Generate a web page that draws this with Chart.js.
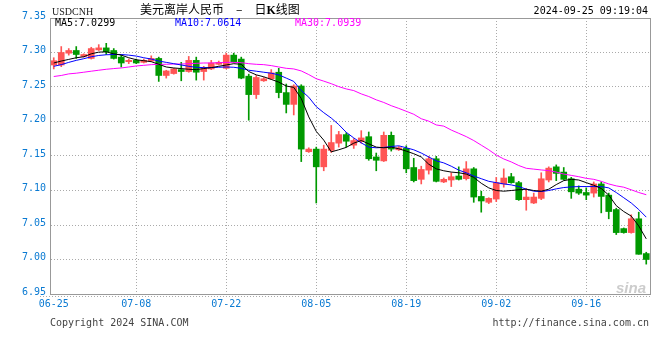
<!DOCTYPE html>
<html>
<head>
<meta charset="utf-8">
<script src="https://cdn.jsdelivr.net/npm/chart.js@4.4.1/dist/chart.umd.min.js"></script>
<style>
    body { margin: 0; background: #fff; }
    #wrap { position: relative; width: 660px; height: 360px; }
    #chart { position: absolute; left: 0; top: 0; }
    .txt { position: absolute; font: 10px "DejaVu Sans Mono", monospace; line-height: 12px; white-space: nowrap; }
</style>
</head>
<body>
<div id="wrap">
    <canvas id="chart" width="660" height="360"></canvas>
    <div class="txt" style="left:52px; top:6px; font-family:'Liberation Serif',serif; color:#222;">USDCNH</div>
    <div class="txt" style="left:140px; top:2px; font:12px 'Noto Sans CJK SC'; line-height:14px; color:#000;">美元离岸人民币　–　日<b style="font-family:'Liberation Serif'">K</b>线图</div>
    <div class="txt" style="right:12px; top:5px; color:#000;">2024-09-25 09:19:04</div>
    <div class="txt" style="left:55px; top:17px; color:#000;">MA5:7.0299</div>
    <div class="txt" style="left:175px; top:17px; color:#0000ff;">MA10:7.0614</div>
    <div class="txt" style="left:295px; top:17px; color:#ff00ff;">MA30:7.0939</div>
    <div class="txt" style="left:50px; top:317px; color:#444;">Copyright 2024 SINA.COM</div>
    <div class="txt" style="right:11px; top:317px; color:#444;">http://finance.sina.com.cn</div>
    <div class="txt" style="left:616px; top:279px; font:italic bold 15px 'Liberation Sans'; color:#cccccc;">sina</div>
</div>
<script>
(function (Chart) {
    const canvas = document.getElementById("chart");

    const dates = [
        "06-25", "06-26", "06-27", "06-28", "06-29",
        "07-01", "07-02", "07-03", "07-04", "07-05", "07-06",
        "07-08", "07-09", "07-10", "07-11", "07-12", "07-13",
        "07-15", "07-16", "07-17", "07-18", "07-19", "07-20",
        "07-22", "07-23", "07-24", "07-25", "07-26", "07-27",
        "07-29", "07-30", "07-31", "08-01", "08-02", "08-03",
        "08-05", "08-06", "08-07", "08-08", "08-09", "08-10",
        "08-12", "08-13", "08-14", "08-15", "08-16", "08-17",
        "08-19", "08-20", "08-21", "08-22", "08-23", "08-24",
        "08-26", "08-27", "08-28", "08-29", "08-30", "08-31",
        "09-02", "09-03", "09-04", "09-05", "09-06", "09-07",
        "09-09", "09-10", "09-11", "09-12", "09-13", "09-14",
        "09-16", "09-17", "09-18", "09-19", "09-20", "09-21",
        "09-23", "09-24", "09-25"
    ];
    const tickLabels = ["06-25", "07-08", "07-22", "08-05", "08-19", "09-02", "09-16"];
    const yTicks = [6.95, 7.00, 7.05, 7.10, 7.15, 7.20, 7.25, 7.30, 7.35];

    const opens = [
        7.2819, 7.2819, 7.2990, 7.3029, 7.2943, 7.2914, 7.3038, 7.3067, 7.3029, 7.2933,
        7.2867, 7.2886, 7.2857, 7.2876, 7.2914, 7.2667, 7.2695, 7.2752, 7.2724, 7.2886,
        7.2724, 7.2762, 7.2829, 7.2771, 7.2962, 7.2905, 7.2657, 7.2390, 7.2590, 7.2619,
        7.2714, 7.2419, 7.2248, 7.2514, 7.1562, 7.1600, 7.1343, 7.1581, 7.1686, 7.1810,
        7.1657, 7.1714, 7.1780, 7.1486, 7.1429, 7.1800, 7.1590, 7.1610, 7.1333, 7.1162,
        7.1295, 7.1460, 7.1124, 7.1152, 7.1210, 7.1171, 7.1314, 7.0914, 7.0829, 7.0876,
        7.1095, 7.1200, 7.1114, 7.0867, 7.0819, 7.0886, 7.1152, 7.1343, 7.1267, 7.1171,
        7.1019, 7.0971, 7.0962, 7.1095, 7.0933, 7.0724, 7.0448, 7.0390, 7.0590, 7.0086
    ];
    const highs = [
        7.2924, 7.3086, 7.3057, 7.3086, 7.2981, 7.3076, 7.3114, 7.3133, 7.3057, 7.2962,
        7.2905, 7.2905, 7.2905, 7.2952, 7.2933, 7.2743, 7.2771, 7.2857, 7.2943, 7.2933,
        7.2800, 7.2886, 7.2876, 7.2990, 7.2990, 7.2933, 7.2686, 7.2667, 7.2638, 7.2752,
        7.2771, 7.2543, 7.2533, 7.2533, 7.1619, 7.1629, 7.1657, 7.1943, 7.1857, 7.1838,
        7.1752, 7.1867, 7.1848, 7.1543, 7.1848, 7.1848, 7.1638, 7.1648, 7.1467, 7.1352,
        7.1495, 7.1495, 7.1181, 7.1257, 7.1343, 7.1419, 7.1333, 7.0990, 7.0895, 7.1190,
        7.1314, 7.1248, 7.1133, 7.1029, 7.0962, 7.1257, 7.1343, 7.1371, 7.1333, 7.1190,
        7.1067, 7.1038, 7.1124, 7.1124, 7.0962, 7.0743, 7.0457, 7.0648, 7.0686, 7.0105
    ];
    const lows = [
        7.2762, 7.2795, 7.2962, 7.2914, 7.2933, 7.2905, 7.3029, 7.2971, 7.2905, 7.2790,
        7.2838, 7.2838, 7.2848, 7.2867, 7.2581, 7.2629, 7.2686, 7.2590, 7.2714, 7.2600,
        7.2600, 7.2752, 7.2819, 7.2762, 7.2857, 7.2619, 7.2019, 7.2333, 7.2581, 7.2610,
        7.2343, 7.2124, 7.2095, 7.1419, 7.1552, 7.0819, 7.1286, 7.1552, 7.1629, 7.1629,
        7.1610, 7.1686, 7.1438, 7.1286, 7.1420, 7.1571, 7.1580, 7.1257, 7.1124, 7.1095,
        7.1238, 7.1124, 7.1114, 7.1057, 7.1152, 7.1152, 7.0829, 7.0686, 7.0810, 7.0838,
        7.1048, 7.1105, 7.0857, 7.0714, 7.0810, 7.0867, 7.1124, 7.1143, 7.1152, 7.0886,
        7.0943, 7.0867, 7.0905, 7.0676, 7.0590, 7.0362, 7.0381, 7.0381, 7.0076, 6.9933
    ];
    const closes = [
        7.2881, 7.3000, 7.3029, 7.2971, 7.2971, 7.3057, 7.3067, 7.3010, 7.2914, 7.2848,
        7.2886, 7.2848, 7.2886, 7.2914, 7.2667, 7.2733, 7.2762, 7.2724, 7.2886, 7.2714,
        7.2781, 7.2848, 7.2857, 7.2962, 7.2867, 7.2629, 7.2390, 7.2638, 7.2619, 7.2705,
        7.2419, 7.2248, 7.2514, 7.1600, 7.1600, 7.1343, 7.1600, 7.1695, 7.1810, 7.1714,
        7.1724, 7.1762, 7.1460, 7.1438, 7.1800, 7.1600, 7.1620, 7.1314, 7.1143, 7.1305,
        7.1460, 7.1133, 7.1162, 7.1200, 7.1162, 7.1314, 7.0905, 7.0848, 7.0886, 7.1114,
        7.1181, 7.1114, 7.0867, 7.0905, 7.0905, 7.1170, 7.1324, 7.1248, 7.1162, 7.0981,
        7.0962, 7.0933, 7.1095, 7.0914, 7.0695, 7.0390, 7.0390, 7.0590, 7.0076, 7.0000
    ];

    const ma5 = [
        7.2848, 7.2876, 7.2900, 7.2924, 7.2938, 7.2981, 7.3005, 7.3010, 7.2981, 7.2962,
        7.2924, 7.2895, 7.2881, 7.2867, 7.2829, 7.2790, 7.2776, 7.2767, 7.2757, 7.2752,
        7.2767, 7.2781, 7.2800, 7.2819, 7.2838, 7.2829, 7.2724, 7.2676, 7.2648, 7.2610,
        7.2571, 7.2514, 7.2495, 7.2333, 7.2067, 7.1857, 7.1730, 7.1560, 7.1590, 7.1625,
        7.1686, 7.1724, 7.1676, 7.1629, 7.1619, 7.1629, 7.1605, 7.1571, 7.1533, 7.1486,
        7.1381, 7.1314, 7.1286, 7.1267, 7.1257, 7.1238, 7.1190, 7.1105, 7.1038, 7.1000,
        7.0990, 7.1000, 7.1010, 7.1019, 7.1000, 7.0990, 7.1019, 7.1086, 7.1143, 7.1162,
        7.1152, 7.1114, 7.1076, 7.1029, 7.0933, 7.0780, 7.0695, 7.0629, 7.0486, 7.0299
    ];
    const ma10 = [
        7.2800, 7.2824, 7.2857, 7.2886, 7.2910, 7.2938, 7.2957, 7.2967, 7.2971, 7.2971,
        7.2962, 7.2948, 7.2924, 7.2905, 7.2876, 7.2857, 7.2838, 7.2819, 7.2800, 7.2786,
        7.2781, 7.2781, 7.2786, 7.2790, 7.2786, 7.2771, 7.2743, 7.2729, 7.2714, 7.2700,
        7.2676, 7.2629, 7.2581, 7.2448, 7.2352, 7.2215, 7.2128, 7.2050, 7.1955, 7.1843,
        7.1762, 7.1690, 7.1629, 7.1619, 7.1624, 7.1638, 7.1648, 7.1619, 7.1590, 7.1543,
        7.1486, 7.1430, 7.1400, 7.1352, 7.1295, 7.1257, 7.1210, 7.1171, 7.1133, 7.1114,
        7.1095, 7.1081, 7.1057, 7.1019, 7.0990, 7.0985, 7.1000, 7.1024, 7.1043, 7.1052,
        7.1057, 7.1057, 7.1057, 7.1057, 7.1038, 7.0971, 7.0895, 7.0819, 7.0724, 7.0614
    ];
    const ma30 = [
        7.2652, 7.2667, 7.2690, 7.2700, 7.2714, 7.2729, 7.2743, 7.2757, 7.2767, 7.2776,
        7.2790, 7.2805, 7.2814, 7.2824, 7.2829, 7.2829, 7.2833, 7.2833, 7.2838, 7.2843,
        7.2848, 7.2848, 7.2852, 7.2857, 7.2857, 7.2852, 7.2838, 7.2829, 7.2824, 7.2810,
        7.2790, 7.2771, 7.2762, 7.2733, 7.2680, 7.2620, 7.2585, 7.2548, 7.2505, 7.2472,
        7.2448, 7.2400, 7.2362, 7.2314, 7.2276, 7.2229, 7.2190, 7.2148, 7.2105, 7.2040,
        7.2005, 7.1950, 7.1933, 7.1876, 7.1829, 7.1781, 7.1724, 7.1657, 7.1590, 7.1514,
        7.1457, 7.1414, 7.1362, 7.1322, 7.1310, 7.1298, 7.1288, 7.1267, 7.1238, 7.1219,
        7.1200, 7.1176, 7.1162, 7.1133, 7.1095, 7.1067, 7.1048, 7.1010, 7.0971, 7.0939
    ];

    const up = "#ff5555";
    const down = "#009900";
    const gridColor = "#aaaaaa";
    const frameColor = "#999999";
    const labelColor = "#0a7ad2";
    const tickFont = { family: "DejaVu Sans Mono", size: 10 };

    const candleColors = closes.map((c, i) => c >= opens[i] ? up : down);

    // frame on top/right, plus the dotted rule under the plot
    const frame = {
        id: "frame",
        afterDraw(chart) {
            const { ctx, chartArea: a } = chart;
            ctx.save();
            ctx.strokeStyle = frameColor;
            ctx.lineWidth = 1;
            ctx.strokeRect(Math.round(a.left) + 0.5, Math.round(a.top) + 0.5,
                Math.round(a.right - a.left), Math.round(a.bottom - a.top));
            ctx.setLineDash([1, 2]);
            ctx.strokeStyle = gridColor;
            ctx.beginPath();
            ctx.moveTo(a.left - 10, Math.round(a.bottom) + 2.5);
            ctx.lineTo(a.right, Math.round(a.bottom) + 2.5);
            ctx.stroke();
            ctx.restore();
        }
    };

    const line = (label, data, color) => ({
        type: "line",
        label: label,
        data: data,
        borderColor: color,
        borderWidth: 1,
        pointRadius: 0,
        tension: 0,
        order: 0
    });

    new Chart(canvas, {
        type: "bar",
        data: {
            labels: dates,
            datasets: [
                line("MA5", ma5, "#000000"),
                line("MA10", ma10, "#0000ff"),
                line("MA30", ma30, "#ff00ff"),
                {
                    label: "body",
                    data: opens.map((o, i) => [o, closes[i]]),
                    backgroundColor: candleColors,
                    barThickness: 6,
                    minBarLength: 1,
                    grouped: false,
                    order: 1
                },
                {
                    label: "wick",
                    data: lows.map((l, i) => [l, highs[i]]),
                    backgroundColor: candleColors,
                    barThickness: 1,
                    grouped: false,
                    order: 2
                }
            ]
        },
        options: {
            responsive: false,
            animation: false,
            layout: {
                padding: { top: 18, right: 10, bottom: 46, left: 0 }
            },
            plugins: {
                legend: { display: false },
                tooltip: { enabled: false }
            },
            scales: {
                x: {
                    offset: true,
                    grid: {
                        offset: false,
                        drawTicks: false,
                        color: ctx => (ctx.index > 0 && tickLabels.includes(dates[ctx.index])) ? gridColor : "transparent"
                    },
                    border: { display: true, color: frameColor, dash: [1, 2] },
                    ticks: {
                        autoSkip: false,
                        maxRotation: 0,
                        padding: 4,
                        color: labelColor,
                        font: tickFont,
                        callback: (_v, i) => tickLabels.includes(dates[i]) ? dates[i] : ""
                    }
                },
                y: {
                    min: yTicks[0],
                    max: yTicks[yTicks.length - 1],
                    afterBuildTicks: scale => {
                        scale.ticks = yTicks.map(v => ({ value: v }));
                    },
                    afterFit: scale => {
                        scale.width = 50;
                    },
                    grid: { drawTicks: false, color: gridColor },
                    border: { display: true, color: frameColor, dash: [1, 2] },
                    ticks: {
                        padding: 4,
                        labelOffset: -2,
                        color: labelColor,
                        font: tickFont,
                        callback: v => Number(v).toFixed(2)
                    }
                }
            }
        },
        plugins: [frame]
    });
}(Chart));
</script>
</body>
</html>
